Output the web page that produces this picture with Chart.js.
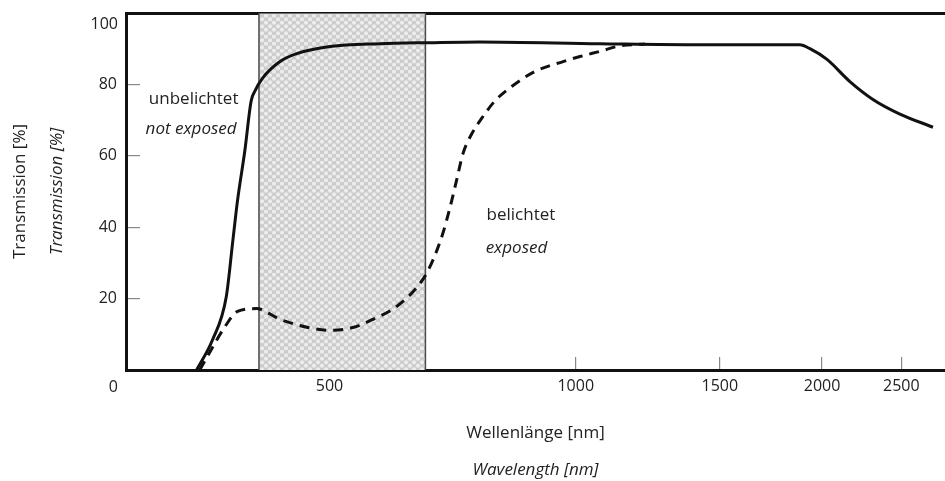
<!DOCTYPE html>
<html>
<head>
<meta charset="utf-8">
<script src="https://cdn.jsdelivr.net/npm/chart.js@4/dist/chart.umd.min.js"></script>
<style>html,body{margin:0;padding:0;background:#fff;}canvas{display:block;}</style>
</head>
<body>
<canvas id="c" width="945" height="481"></canvas>
<script>
// ---- data ----
const xTickValues = [500, 1000, 1500, 2000, 2500];
const yTickValues = [20, 40, 60, 80];
const xRange = [282, 2827];
const yRange = [0, 100];
const bandRange = [410, 655];

const unexposedWavelength   = [344, 360, 374, 381, 386, 394, 401, 405, 414, 435, 456, 501, 576, 663, 763, 1070, 1418, 1879, 1933, 2028, 2163, 2308, 2490, 2733];
const unexposedTransmission = [0, 8.6, 20.6, 36.4, 47.5, 61.4, 75.3, 78, 81.7, 86.4, 88.6, 90.6, 91.4, 91.7, 91.9, 91.4, 91.1, 91.1, 90, 87, 80.8, 75.8, 71.7, 68];

const exposedWavelength   = [347, 357, 372, 386, 407, 435, 469, 501, 534, 565, 604, 650, 669, 688, 702, 715, 728, 746, 768, 796, 835, 891, 965, 1012, 1076, 1132, 1215];
const exposedTransmission = [0, 5, 11.9, 16.4, 17.2, 14.2, 12, 11.1, 11.9, 14.2, 17.8, 25.3, 30.8, 38.3, 45.6, 53.1, 60.6, 66.1, 70.6, 75.3, 79.4, 83.6, 86.4, 87.8, 89.4, 90.8, 91.3];

const FONT = '"Open Sans", "Noto Sans", sans-serif';
const TEXT = '#222';

function makePattern() {
  const p = document.createElement('canvas');
  p.width = 8; p.height = 7;
  const g = p.getContext('2d');
  g.fillStyle = '#cbcbcb';
  g.fillRect(0, 0, 8, 7);
  g.fillStyle = '#ececec';
  const centers = [[2, 1.75], [6, 5.25]];
  for (const [cx, cy] of centers) {
    for (const dx of [-8, 0, 8]) for (const dy of [-7, 0, 7]) {
      g.beginPath();
      g.arc(cx + dx, cy + dy, 2.1, 0, Math.PI * 2);
      g.fill();
    }
  }
  return g.createPattern(p, 'repeat');
}

const toPoints = (xs, ys) => xs.map((x, i) => ({ x, y: ys[i] }));

const textPlugin = {
  id: 'figureTexts',
  afterDraw(chart) {
    const { ctx, chartArea: a, scales: { x, y } } = chart;
    ctx.save();
    ctx.fillStyle = TEXT;
    // corner tick labels
    ctx.font = '16px ' + FONT;
    ctx.textAlign = 'right';
    ctx.textBaseline = 'middle';
    ctx.fillText('100', a.left - 8, y.getPixelForValue(100) + 11);
    ctx.fillText('0', a.left - 8, a.bottom + 17);

    // curve annotations
    const ann = [
      { t: 'unbelichtet', wl: 387, v: 75.8, italic: false, align: 'right' },
      { t: 'not exposed', wl: 385, v: 67.5, italic: true, align: 'right' },
      { t: 'belichtet', wl: 778, v: 43.3, italic: false, align: 'left' },
      { t: 'exposed', wl: 776, v: 34.2, italic: true, align: 'left' }
    ];
    for (const o of ann) {
      ctx.font = (o.italic ? 'italic ' : '') + '17px ' + FONT;
      ctx.textAlign = o.align;
      ctx.fillText(o.t, x.getPixelForValue(o.wl), y.getPixelForValue(o.v));
    }

    // axis titles
    const cx = (a.left + a.right) / 2;
    const cy = (a.top + a.bottom) / 2;
    ctx.textAlign = 'center';
    ctx.font = '17px ' + FONT;
    ctx.fillText('Wellenlänge [nm]', cx, a.bottom + 63);
    ctx.font = 'italic 17px ' + FONT;
    ctx.fillText('Wavelength [nm]', cx, a.bottom + 100);

    ctx.save();
    ctx.translate(20, cy);
    ctx.rotate(-Math.PI / 2);
    ctx.font = '17px ' + FONT;
    ctx.fillText('Transmission [%]', 0, 0);
    ctx.restore();
    ctx.save();
    ctx.translate(57, cy);
    ctx.rotate(-Math.PI / 2);
    ctx.font = 'italic 17px ' + FONT;
    ctx.fillText('Transmission [%]', 0, 0);
    ctx.restore();

    ctx.restore();
  }
};

new Chart(document.getElementById('c'), {
  type: 'line',
  data: {
    datasets: [
      {
        label: 'unbelichtet / not exposed',
        data: toPoints(unexposedWavelength, unexposedTransmission),
        xAxisID: 'x', yAxisID: 'y',
        borderColor: '#111', borderWidth: 3,
        pointRadius: 0, fill: false,
        cubicInterpolationMode: 'monotone',
        order: 1
      },
      {
        label: 'belichtet / exposed',
        data: toPoints(exposedWavelength, exposedTransmission),
        xAxisID: 'x', yAxisID: 'y',
        borderColor: '#111', borderWidth: 3, borderDash: [10, 7],
        pointRadius: 0, fill: false,
        cubicInterpolationMode: 'monotone',
        order: 2
      },
      {
        label: 'band',
        data: [
          { x: bandRange[0], y: yRange[0] }, { x: bandRange[0], y: yRange[1] },
          { x: bandRange[1], y: yRange[1] }, { x: bandRange[1], y: yRange[0] }
        ],
        xAxisID: 'x', yAxisID: 'y',
        borderColor: '#4a4a4a', borderWidth: 1.5,
        backgroundColor: makePattern(),
        fill: 'origin', pointRadius: 0, tension: 0,
        order: 3
      }
    ]
  },
  options: {
    responsive: false,
    devicePixelRatio: 1,
    animation: false,
    layout: { padding: { top: 13, left: 0, right: 0, bottom: 0 } },
    plugins: { legend: { display: false }, tooltip: { enabled: false } },
    scales: {
      x: {
        type: 'logarithmic', position: 'bottom',
        min: xRange[0], max: xRange[1], bounds: 'data', z: 1,
        afterBuildTicks: s => { s.ticks = xTickValues.map(v => ({ value: v })); },
        afterFit: s => { s.height = 111; s.paddingLeft = 0; s.paddingRight = 0; },
        ticks: { callback: v => String(v), autoSkip: false, maxRotation: 0, minRotation: 0,
                 padding: 20, color: TEXT, font: { family: FONT, size: 16 } },
        grid: { drawOnChartArea: false, drawTicks: true, tickLength: -13,
                color: ctx => (ctx.tick && ctx.tick.value === 500 ? '#222' : '#888'), lineWidth: 1.2 },
        border: { display: true, color: '#111', width: 3 }
      },
      y: {
        type: 'linear', position: 'left',
        min: yRange[0], max: yRange[1], z: 1,
        afterBuildTicks: s => { s.ticks = yTickValues.map(v => ({ value: v })); },
        afterFit: s => { s.width = 126; s.paddingTop = 0; s.paddingBottom = 0; },
        ticks: { padding: 23, color: TEXT, font: { family: FONT, size: 16 } },
        grid: { drawOnChartArea: false, drawTicks: true, tickLength: -14, color: '#888', lineWidth: 1.2 },
        border: { display: true, color: '#111', width: 3 }
      },
      xTop: {
        type: 'linear', position: 'top', z: 1,
        afterFit: s => { s.height = 0; s.paddingLeft = 0; s.paddingRight = 0; },
        ticks: { display: false },
        grid: { drawOnChartArea: false, drawTicks: false },
        border: { display: true, color: '#111', width: 3 }
      }
    }
  },
  plugins: [textPlugin]
});
</script>
</body>
</html>
